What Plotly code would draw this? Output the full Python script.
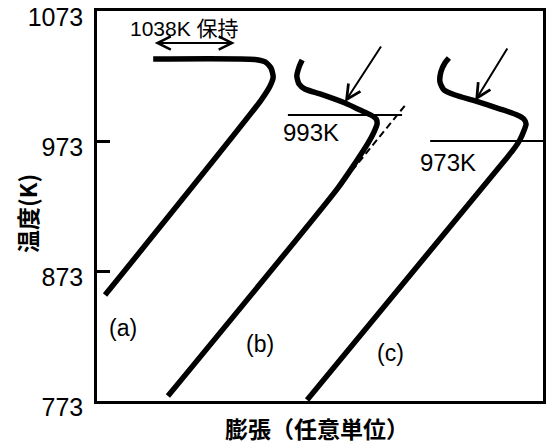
import plotly.graph_objects as go

# Dilatometer curves: expansion (arbitrary units) vs temperature (K)
expansion_a = [1.8, 36.8, 38.8, 39.5, 39.0, 37.7, 35.4, 12.6]
temp_a = [854.5, 1004.5, 1015.3, 1022.2, 1029.2, 1033.8, 1035.7, 1036.1]

expansion_b = [15.9, 54.0, 57.9, 60.8, 62.1, 62.8, 62.6, 61.4, 59.0, 55.6, 50.0, 46.6, 45.3, 44.8, 45.3, 46.0]
temp_b = [776.8, 936.8, 956.1, 971.5, 979.9, 986.1, 989.9, 993.0, 996.8, 1002.2, 1009.2, 1013.0, 1016.8, 1023.0, 1029.9, 1035.3]

expansion_c = [47.1, 91.5, 93.3, 94.8, 95.7, 96.2, 95.7, 94.2, 90.4, 84.8, 80.3, 77.8, 76.9, 77.1, 78.0, 78.9]
temp_c = [773.8, 958.4, 966.1, 973.8, 980.7, 986.1, 989.9, 993.0, 997.6, 1003.8, 1008.4, 1012.2, 1018.4, 1026.1, 1033.0, 1036.8]

# linear extrapolation of curve (b)
extrap_b_x = [54.0, 69.5]
extrap_b_t = [936.8, 1002.2]

# transformation start temperatures
ts_b = 993
ts_b_span = [42.8, 68.4]
ts_c = 973
ts_c_span = [74.7, 100.0]

hold_temp = 1038
hold_span = [12.6, 30.9]

y_ticks = [773, 873, 973, 1073]

x_title = "膨張（任意単位）"
y_title = "温度(K)"

NARROW = "Liberation Sans Narrow, Arial Narrow, Liberation Sans, Arial"
SANS = "Liberation Sans, Arial, Noto Sans CJK JP"
CJK = "Noto Sans CJK JP, Liberation Sans"

fig = go.Figure()

thick = dict(color="black", width=5.5, shape="spline", smoothing=0.6)
for xs, ts in [(expansion_a, temp_a), (expansion_b, temp_b), (expansion_c, temp_c)]:
    fig.add_trace(go.Scatter(x=xs, y=ts, mode="lines", line=thick,
                             hoverinfo="skip", showlegend=False))

fig.add_trace(go.Scatter(x=extrap_b_x, y=extrap_b_t, mode="lines",
                         line=dict(color="black", width=2, dash="7px,4px"),
                         hoverinfo="skip", showlegend=False))

for span, t in [(ts_b_span, ts_b), (ts_c_span, ts_c)]:
    fig.add_trace(go.Scatter(x=span, y=[t, t], mode="lines",
                             line=dict(color="black", width=2),
                             hoverinfo="skip", showlegend=False))

annotations = []

# hold period double arrow
annotations.append(dict(x=hold_span[1], y=1048.4, ax=hold_span[0], ay=1048.4,
                        xref="x", yref="y", axref="x", ayref="y", text="",
                        showarrow=True, arrowhead=5, startarrowhead=5,
                        arrowside="end+start", arrowwidth=2, arrowsize=1.3,
                        startarrowsize=1.3, arrowcolor="black", standoff=0,
                        startstandoff=0))

# arrows to transformation onset
for tip_x, tip_y, tail_x, tail_y in [(55.6, 1003.0, 63.9, 1046.8), (84.8, 1004.0, 92.2, 1045.3)]:
    annotations.append(dict(x=tip_x, y=tip_y, ax=tail_x, ay=tail_y,
                            xref="x", yref="y", axref="x", ayref="y", text="",
                            showarrow=True, arrowhead=5, arrowwidth=2,
                            arrowsize=1.4, arrowcolor="black", standoff=0))

labels = [
    (19.7, 1059.9, f"{hold_temp}K 保持", 21),
    (48.0, 979.2, f"{ts_b}K", 24),
    (78.6, 956.1, f"{ts_c}K", 24),
    (5.9, 829.5, "(a)", 23),
    (36.5, 817.2, "(b)", 23),
    (65.7, 810.3, "(c)", 23),
]
for x, y, txt, size in labels:
    annotations.append(dict(x=x, y=y, xref="x", yref="y", text=txt,
                            showarrow=False, xanchor="center", yanchor="middle",
                            font=dict(family=SANS, size=size, color="black")))

# axis titles
title_font = dict(family=CJK, size=23, color="black", weight="bold")
annotations.append(dict(x=0.493, y=-0.069, xref="paper", yref="paper", text=x_title,
                        showarrow=False, xanchor="center", yanchor="middle",
                        font=title_font))
annotations.append(dict(x=-0.157, y=0.482, xref="paper", yref="paper", text=y_title,
                        showarrow=False, xanchor="center", yanchor="middle",
                        textangle=-90, font=title_font))

fig.update_layout(
    width=547, height=445,
    margin=dict(l=97, r=4, t=11, b=44),
    paper_bgcolor="white", plot_bgcolor="white",
    annotations=annotations,
    xaxis=dict(range=[0, 100], showgrid=False, zeroline=False, automargin=False,
               showticklabels=False, ticks="", showline=True, mirror=True,
               linecolor="black", linewidth=2.5),
    yaxis=dict(range=[773, 1073], tickvals=y_ticks, ticktext=[str(v) for v in y_ticks],
               showgrid=False, zeroline=False, ticks="inside", ticklen=13,
               tickwidth=2.5, tickcolor="black", showline=True, mirror=True,
               linecolor="black", linewidth=2.5, ticklabelstandoff=6,
               automargin=False, ticklabeloverflow="allow", ticklabelshift=6,
               tickfont=dict(family=NARROW, size=25, color="black")),
)

fig.write_html("out.html")
